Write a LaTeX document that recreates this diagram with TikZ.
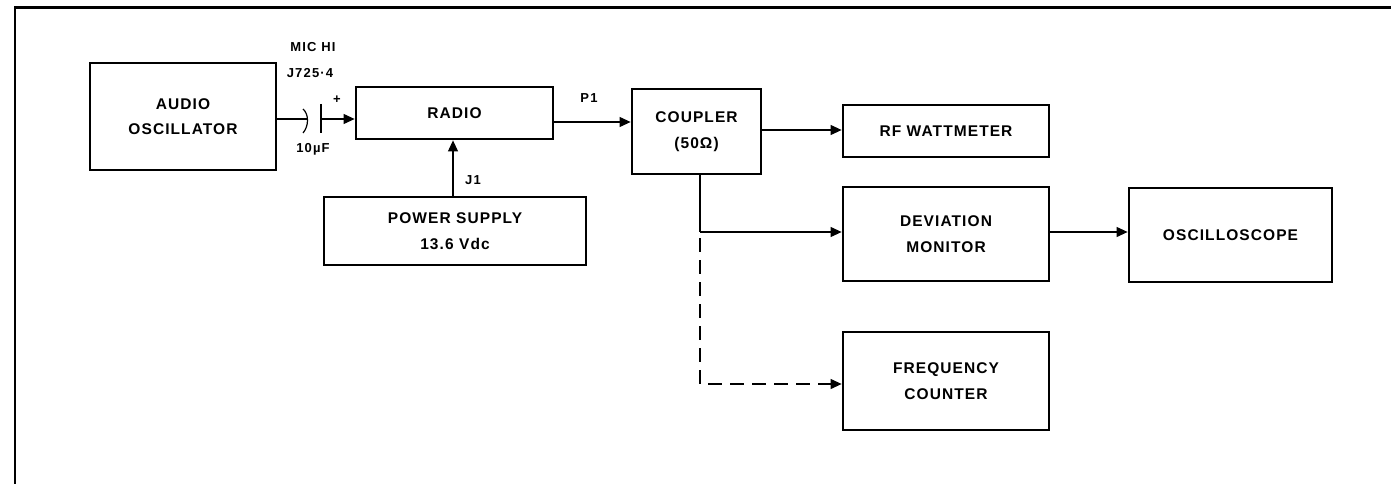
\documentclass[tikz,border=0pt]{standalone}
\usepackage{fontspec}
\setmainfont{Liberation Sans}
\usetikzlibrary{arrows.meta}
\begin{document}
\begin{tikzpicture}[x=1pt,y=-1pt,
  box/.style={draw,line width=2.8pt,rectangle,inner sep=0pt,align=center,
    font=\fontsize{15.5}{25.5}\selectfont\bfseries\addfontfeature{LetterSpace=7}},
  lbl/.style={inner sep=0pt,font=\fontsize{13}{15}\selectfont\bfseries\addfontfeature{LetterSpace=9}},
  conn/.style={line width=1.1pt},
  arr/.style={conn,-{Triangle[length=11pt,width=10pt]}},
  dasharr/.style={arr,dash pattern=on 14pt off 8pt}]
\useasboundingbox (0,0) rectangle (1391,484);
% frame
\draw[line width=2.5pt] (15,484) -- (15,7.5) -- (1391,7.5);
% boxes
\node[box,minimum width=186pt,minimum height=107pt] (audio) at (183,116.5) {AUDIO\\OSCILLATOR};
\node[box,minimum width=197pt,minimum height=52pt] (radio) at (454.5,113) {RADIO};
\node[box,minimum width=262pt,minimum height=68pt] (power) at (455,231) {POWER SUPPLY\\13.6 Vdc};
\node[box,minimum width=129pt,minimum height=85pt] (coupler) at (696.5,131.5) {COUPLER\\(50Ω)};
\node[box,minimum width=206pt,minimum height=52pt] (rfw) at (946,131) {RF WATTMETER};
\node[box,minimum width=206pt,minimum height=94pt] (dev) at (946,234) {DEVIATION\\MONITOR};
\node[box,minimum width=203pt,minimum height=94pt] (osc) at (1230.5,235) {OSCILLOSCOPE};
\node[box,minimum width=206pt,minimum height=98pt] (freq) at (946,381) {FREQUENCY\\COUNTER};
% labels
\node[lbl] (mic) at (313,47) {MIC HI};
\node[lbl] (jack) at (310,73) {J725·4};
\node[lbl] (plus) at (337,100) {+};
\node[lbl] (cap) at (313,149) {10µF};
\node[lbl] (p1) at (589,98) {P1};
\node[lbl] (j1) at (473,180) {J1};
% capacitor
\coordinate (c1) at (307,119);
\coordinate (c2) at (321,119);
\draw[conn] (audio.east |- c1) -- (c1);
\draw[line width=1.2pt] (303,109) .. controls (309,114) and (309,126) .. (303,133);
\draw[line width=2.2pt] (c2 |- 0,104) -- (c2 |- 0,133);
\draw[arr] (c2) -- (radio.west |- c2);
% connectors
\coordinate (p1y) at (600,122);
\draw[arr] (radio.east |- p1y) -- (coupler.west |- p1y);
\draw[arr] (power.north -| 453,0) -- (radio.south -| 453,0);
\draw[arr] (coupler.east |- 0,130) -- (rfw.west |- 0,130);
\coordinate (tap) at (700,232);
\draw[conn] (coupler.south -| tap) -- (tap);
\draw[arr] (tap) -- (dev.west |- tap);
\draw[dasharr] ([yshift=-6pt]tap) -- (tap |- 0,384) -- (freq.west |- 0,384);
\draw[arr] (dev.east |- 0,232) -- (osc.west |- 0,232);
\end{tikzpicture}
\end{document}
